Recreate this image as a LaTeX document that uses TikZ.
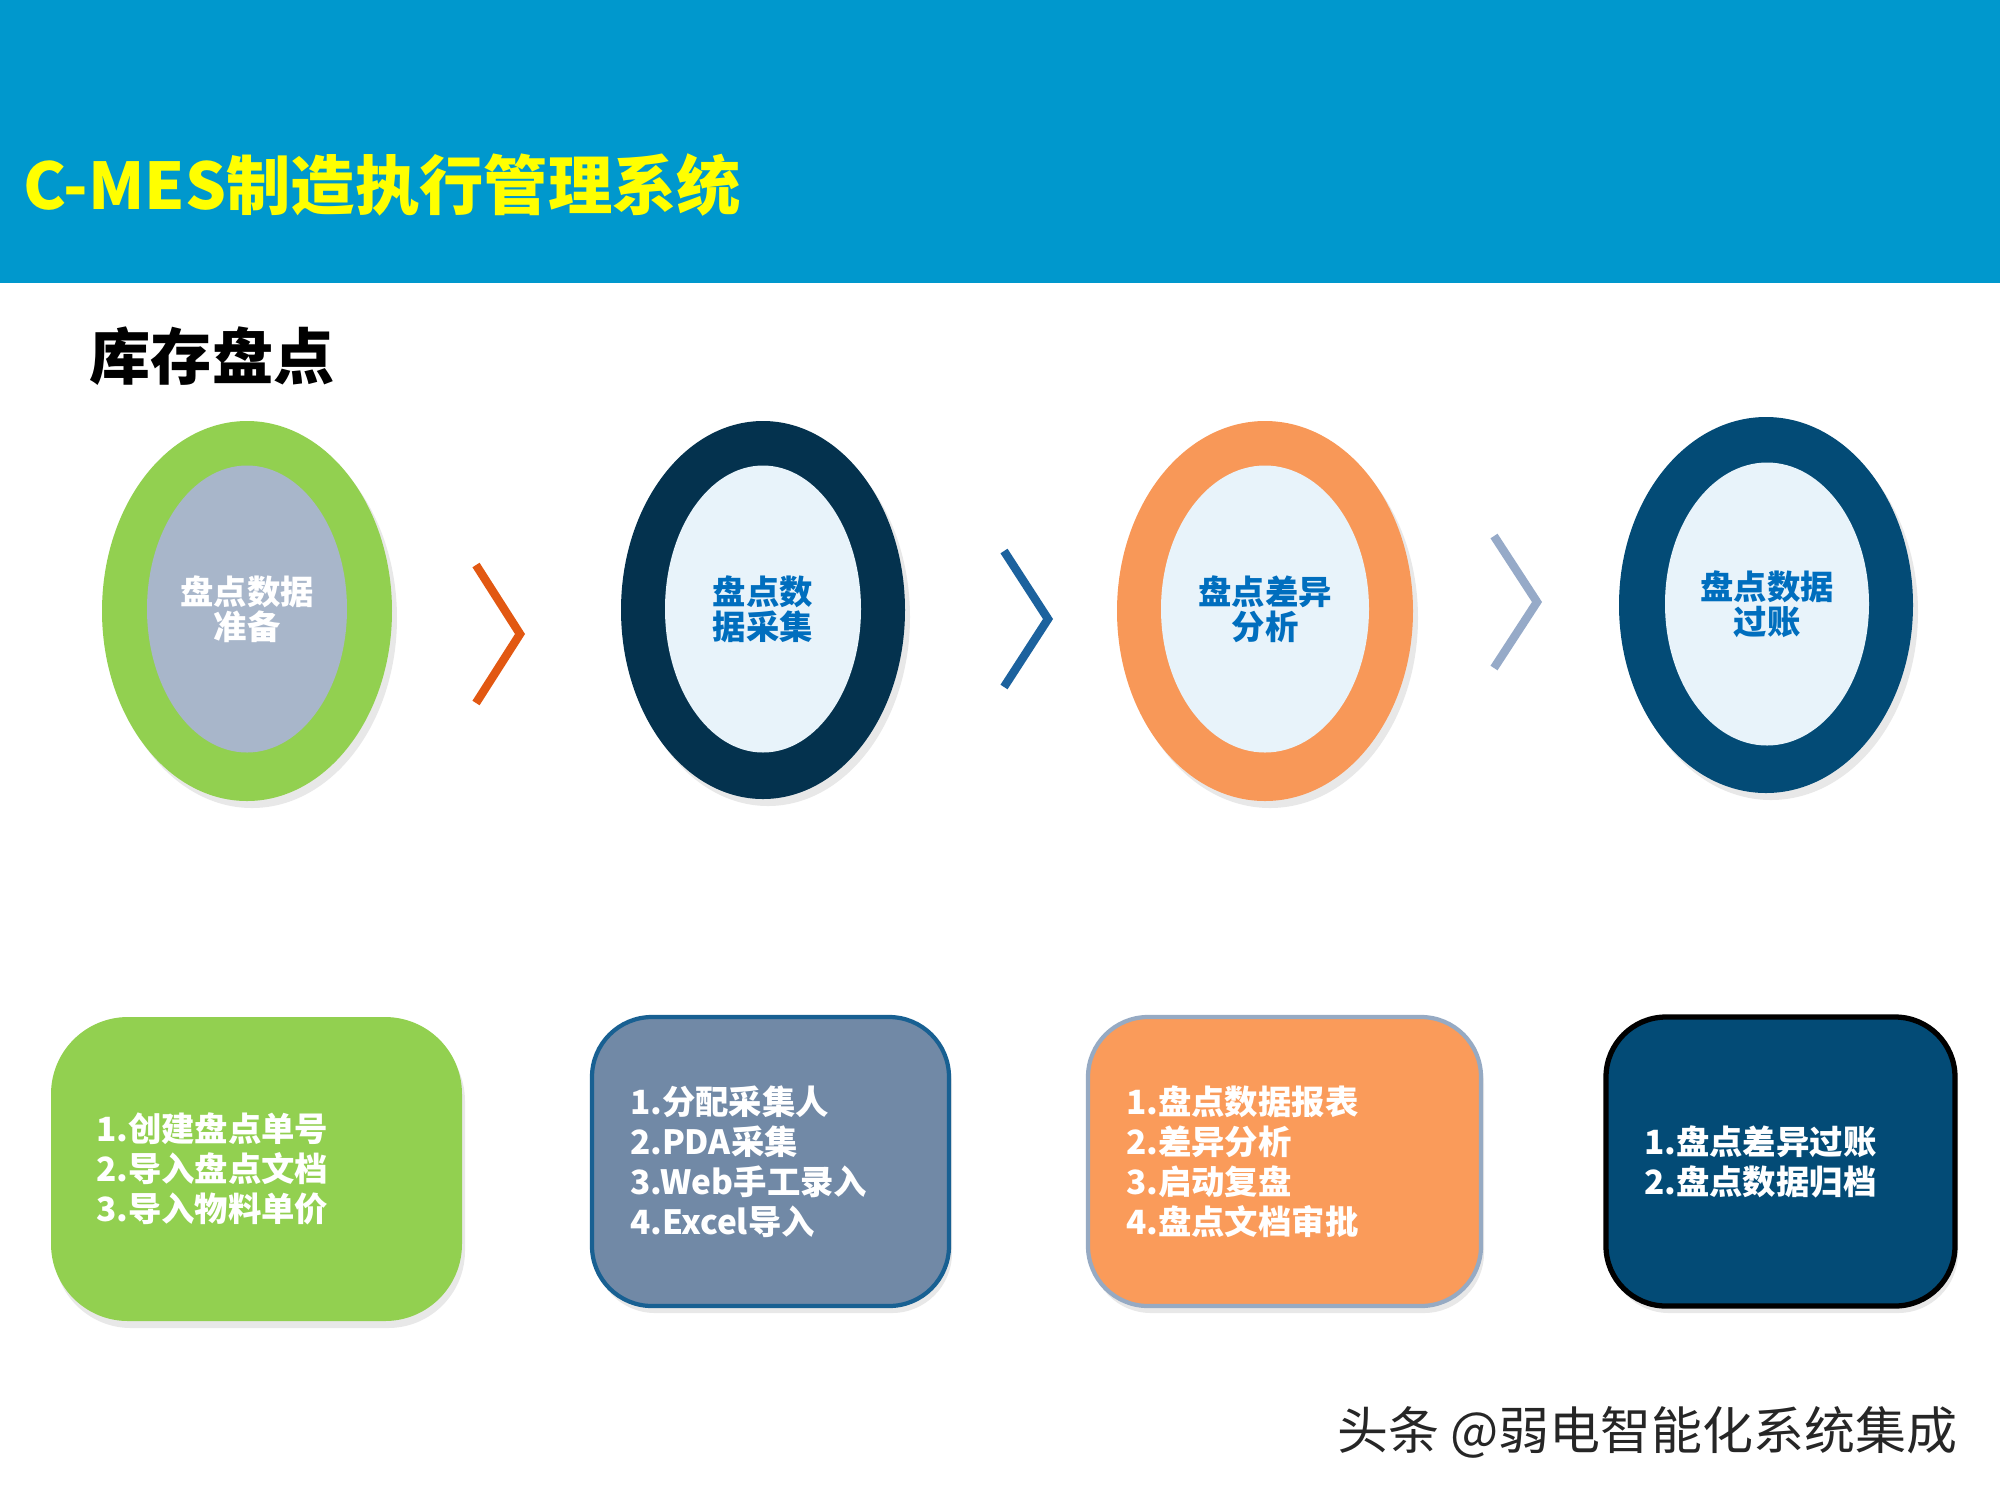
\documentclass[tikz,border=0pt]{standalone}
\usepackage{fontspec}
\newfontfamily\cjk{Noto Sans CJK SC}
\usepackage{xcolor}
\usetikzlibrary{shapes.geometric,positioning,shadows}

\definecolor{bandblue}{RGB}{0,152,205}
\definecolor{titleyellow}{RGB}{255,255,0}
\definecolor{stepgreen}{RGB}{146,208,80}
\definecolor{coregray}{RGB}{168,182,202}
\definecolor{stepnavy}{RGB}{4,50,78}
\definecolor{corelight}{RGB}{232,243,250}
\definecolor{steporange}{RGB}{248,152,88}
\definecolor{stepblue}{RGB}{3,75,118}
\definecolor{textblue}{RGB}{0,110,190}
\definecolor{cardslate}{RGB}{113,137,166}
\definecolor{cardslateline}{RGB}{24,96,146}
\definecolor{cardorange}{RGB}{250,155,90}
\definecolor{cardorangeline}{RGB}{150,170,195}
\definecolor{chevorange}{RGB}{226,88,18}
\definecolor{chevblue}{RGB}{28,98,158}
\definecolor{chevgray}{RGB}{150,170,200}

\begin{document}
\begin{tikzpicture}[
    ring/.style={ellipse, inner sep=0pt, outer sep=0pt,
        drop shadow={shadow xshift=0.05cm, shadow yshift=-0.07cm, opacity=0.18}},
    core/.style={ellipse, inner sep=0pt, outer sep=0pt, fill=corelight, align=center,
        text=textblue, font=\cjk\bfseries\fontsize{9.5}{9.9}\selectfont},
    card/.style={rectangle, inner xsep=0.38cm, inner ysep=0pt, align=left, text=white,
        font=\cjk\bfseries\fontsize{9.5}{11.4}\selectfont,
        drop shadow={shadow xshift=0.03cm, shadow yshift=-0.07cm, opacity=0.18}},
    chev/.style={line width=2.4pt, line join=miter}
]
    \useasboundingbox (0,0) rectangle (20,-15);

    % header band
    \fill[bandblue] (0,0) rectangle (20,-2.83);
    \node[anchor=west, text=titleyellow, font=\cjk\bfseries\fontsize{18.3}{20}\selectfont,
        inner sep=0pt] (title) at (0.23,-1.85) {C-MES制造执行管理系统};

    % section heading
    \node[anchor=west, font=\cjk\bfseries\fontsize{17.4}{19}\selectfont, inner sep=0pt]
        (heading) at (0.89,-3.56) {库存盘点};

    % step rings
    \node[ring, fill=stepgreen, minimum width=2.90cm, minimum height=3.80cm] (ringA) at (2.47,-6.11) {};
    \node[core, fill=coregray, text=white, minimum width=2.00cm, minimum height=2.87cm] (coreA)
        at (2.47,-6.09) {盘点数据\\准备};

    \node[ring, fill=stepnavy, minimum width=2.84cm, minimum height=3.78cm] (ringB) at (7.63,-6.10) {};
    \node[core, minimum width=1.96cm, minimum height=2.87cm] (coreB)
        at (7.63,-6.09) {盘点数\\据采集};

    \node[ring, fill=steporange, minimum width=2.96cm, minimum height=3.80cm] (ringC) at (12.65,-6.11) {};
    \node[core, minimum width=2.08cm, minimum height=2.87cm] (coreC)
        at (12.65,-6.09) {盘点差异\\分析};

    \node[ring, fill=stepblue, minimum width=2.94cm, minimum height=3.76cm] (ringD) at (17.66,-6.05) {};
    \node[core, minimum width=2.04cm, minimum height=2.83cm] (coreD)
        at (17.67,-6.04) {盘点数据\\过账};

    % chevrons between the rings
    \draw[chev, chevorange] (4.76,-5.65) -- ++(0.44,-0.69) -- ++(-0.44,-0.69);
    \draw[chev, chevblue] (10.04,-5.51) -- ++(0.44,-0.68) -- ++(-0.44,-0.68);
    \draw[chev, chevgray] (14.94,-5.36) -- ++(0.43,-0.66) -- ++(-0.43,-0.66);

    % detail cards
    \node[card, fill=stepgreen, rounded corners=0.77cm, inner xsep=0.45cm,
        minimum width=4.11cm, minimum height=3.04cm, text width=3.21cm] (cardA)
        at (2.565,-11.69) {1.创建盘点单号\\2.导入盘点文档\\3.导入物料单价};

    \node[card, fill=cardslate, draw=cardslateline, line width=1.2pt, rounded corners=0.6cm,
        minimum width=3.57cm, minimum height=2.89cm, text width=2.81cm] (cardB)
        at (7.705,-11.615) {1.分配采集人\\2.PDA采集\\3.Web手工录入\\4.Excel导入};

    \node[card, fill=cardorange, draw=cardorangeline, line width=1.2pt, rounded corners=0.6cm,
        minimum width=3.93cm, minimum height=2.89cm, text width=3.17cm] (cardC)
        at (12.845,-11.615) {1.盘点数据报表\\2.差异分析\\3.启动复盘\\4.盘点文档审批};

    \node[card, fill=stepblue, draw=black, line width=1.5pt, rounded corners=0.6cm,
        minimum width=3.49cm, minimum height=2.89cm, text width=2.73cm] (cardD)
        at (17.805,-11.615) {1.盘点差异过账\\2.盘点数据归档};

    % footer mark
    \node[anchor=east, inner sep=0pt, text=black!85, font=\cjk\fontsize{14.5}{16}\selectfont]
        (footer) at (19.58,-14.32) {头条 @弱电智能化系统集成};
\end{tikzpicture}
\end{document}
